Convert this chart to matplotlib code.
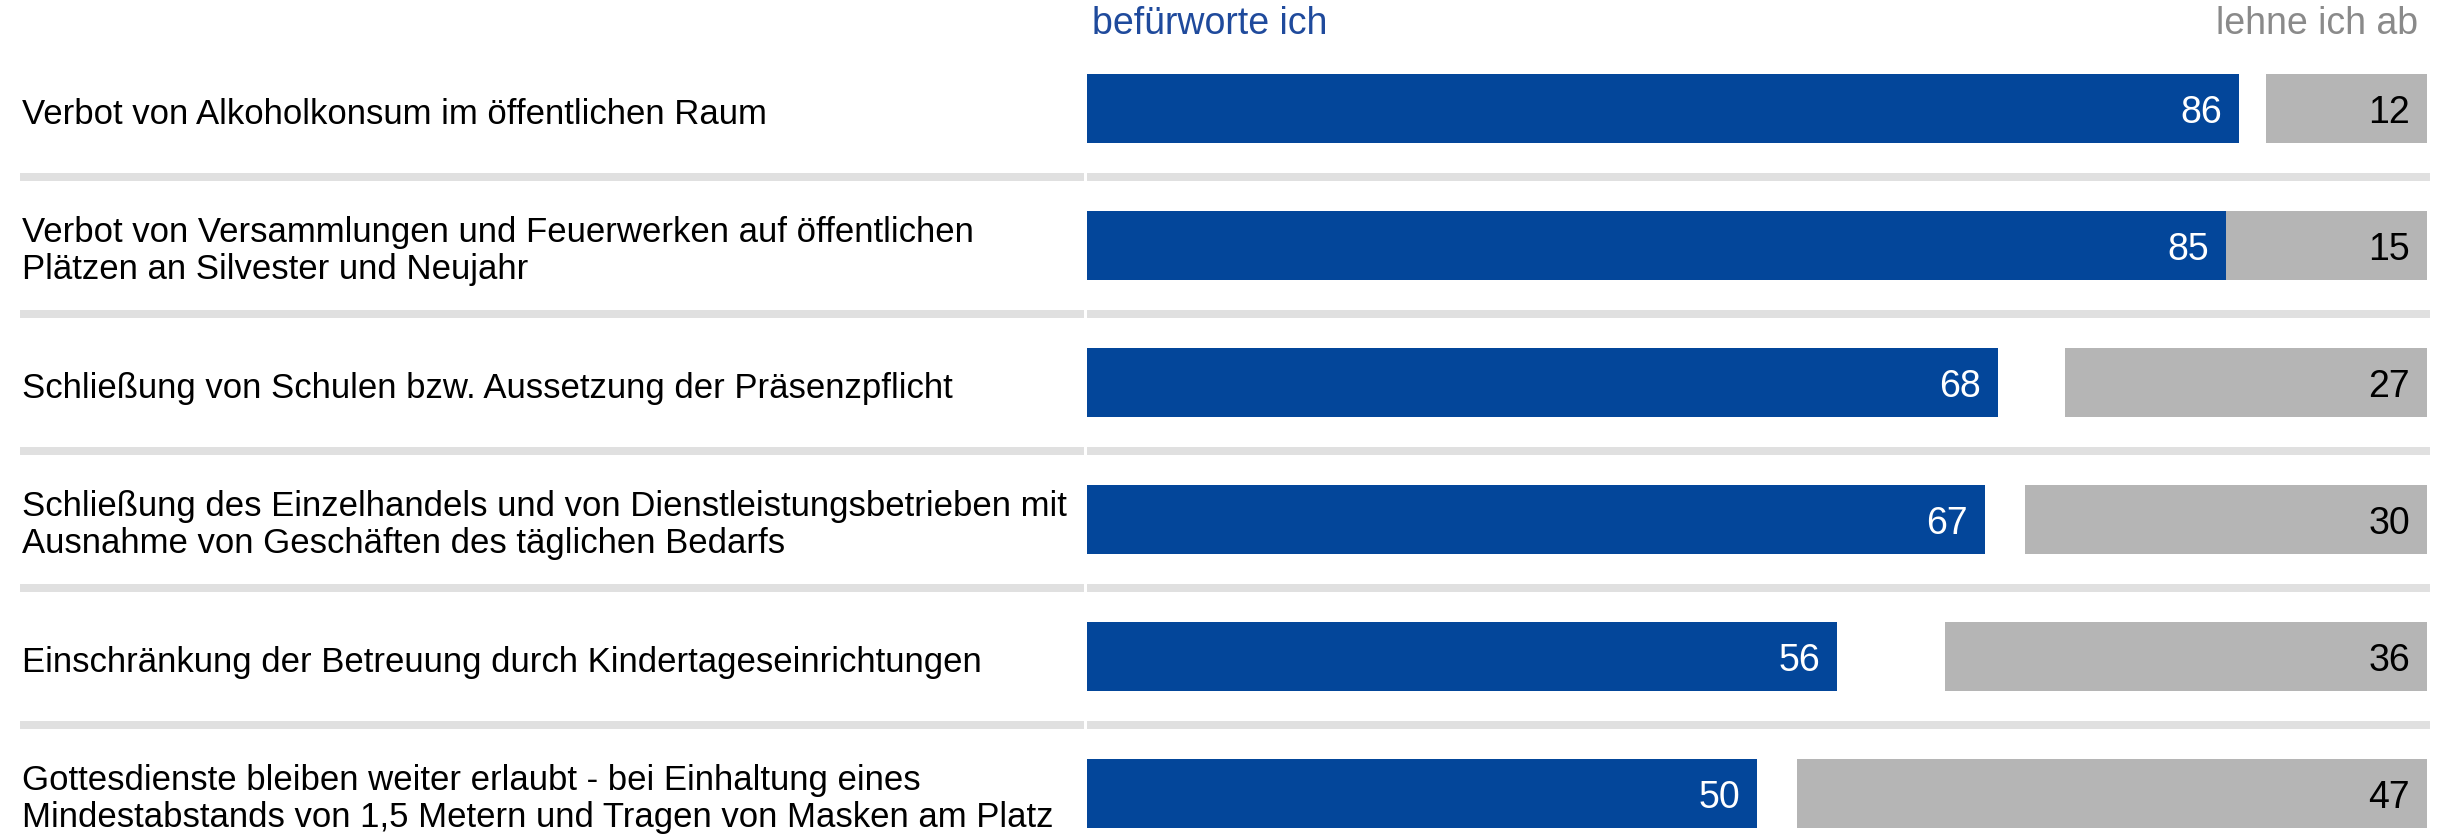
import matplotlib.pyplot as plt

plt.rcParams['font.family'] = ['Liberation Sans', 'DejaVu Sans']

# Data
labels = [
    "Verbot von Alkoholkonsum im öffentlichen Raum",
    "Verbot von Versammlungen und Feuerwerken auf öffentlichen\nPlätzen an Silvester und Neujahr",
    "Schließung von Schulen bzw. Aussetzung der Präsenzpflicht",
    "Schließung des Einzelhandels und von Dienstleistungsbetrieben mit\nAusnahme von Geschäften des täglichen Bedarfs",
    "Einschränkung der Betreuung durch Kindertageseinrichtungen",
    "Gottesdienste bleiben weiter erlaubt - bei Einhaltung eines\nMindestabstands von 1,5 Metern und Tragen von Masken am Platz",
]
approve = [86, 85, 68, 67, 56, 50]
reject = [12, 15, 27, 30, 36, 47]
header_approve = "befürworte ich"
header_reject = "lehne ich ab"

COLOR_BLUE = '#03469a'
COLOR_GRAY = '#b5b5b5'
COLOR_SEP = '#e0e0e0'

W, H, DPI = 2443, 837, 100
X0 = 1087      # pixel where value 0 sits
PX_UNIT = 13.4  # pixels per percentage point
ROW_TOP = 109.5
ROW_PITCH = 137

fig = plt.figure(figsize=(W / DPI, H / DPI), dpi=DPI)
ax = fig.add_axes([0, 0, 1, 1])
ax.set_xlim(-X0 / PX_UNIT, (W - X0) / PX_UNIT)
ax.set_ylim((H - ROW_TOP) / ROW_PITCH, -ROW_TOP / ROW_PITCH)
ax.axis('off')

n = len(labels)
ys = list(range(n))
bar_h = 69 / ROW_PITCH

ax.barh(ys, approve, height=bar_h, left=0, color=COLOR_BLUE)
ax.barh(ys, reject, height=bar_h, left=[100 - r for r in reject], color=COLOR_GRAY)

pad = 17 / PX_UNIT
for y, a, r, lab in zip(ys, approve, reject, labels):
    ax.text(a - pad, y + 0.025, str(a), ha='right', va='center', color='white', fontsize=27)
    ax.text(100 - pad, y + 0.025, str(r), ha='right', va='center', color='black', fontsize=27)
    ax.text((22 - X0) / PX_UNIT, y + 0.035, lab, ha='left', va='center', color='black',
            fontsize=25, linespacing=1.15)

# separators between rows
for i in range(n - 1):
    yy = i + 0.5
    ax.hlines(yy, (20 - X0) / PX_UNIT, (1084 - X0) / PX_UNIT, color=COLOR_SEP,
              linewidth=8 * 72 / DPI, capstyle='butt')
    ax.hlines(yy, 0, (2430 - X0) / PX_UNIT, color=COLOR_SEP,
              linewidth=8 * 72 / DPI, capstyle='butt')

# column headers
y_head = (34 - ROW_TOP) / ROW_PITCH
ax.text(5 / PX_UNIT, y_head, header_approve, ha='left', va='baseline', color='#1f4a9c', fontsize=27)
ax.text(100 - 9 / PX_UNIT, y_head, header_reject, ha='right', va='baseline', color='#8a8a8a', fontsize=27)

fig.savefig('out.png', dpi=DPI)
